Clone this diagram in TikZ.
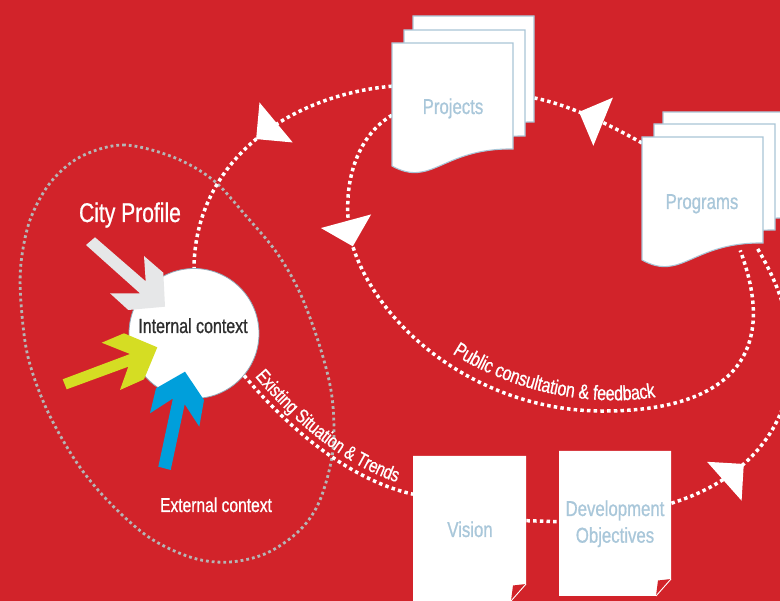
\documentclass[tikz,border=0pt]{standalone}
\usepackage{fontspec}
\setmainfont{Liberation Sans}[FakeStretch=0.78, FakeBold=0.8]
\usetikzlibrary{decorations.markings,decorations.text}
\definecolor{bgred}{HTML}{D2232A}
\definecolor{docedge}{HTML}{A9C5D7}
\definecolor{doctext}{HTML}{A9C7DA}
\definecolor{ellgray}{HTML}{B5B5B5}
\definecolor{arrgray}{HTML}{E6E7E8}
\definecolor{arryellow}{HTML}{D5DD23}
\definecolor{arrblue}{HTML}{009FDB}
\definecolor{inktext}{HTML}{2E2E2E}
\definecolor{circedge}{HTML}{8FA6B6}
\newcommand\myPathFont{\color{white}\fontsize{19.5}{23}\selectfont}
\newcommand\myPathFontB{\color{white}\fontsize{20.5}{24}\selectfont}
\tikzset{
  pics/docsheet/.style={code={
    \path[fill=white, draw=docedge, line width=1.1pt]
      (0,0) -- (121,0) -- (121,106) .. controls (50,105) and (40,145) .. (0,123) -- cycle;
  }},
  pics/foldsheet/.style={code={
    \fill[white] (0,0) -- (#1,0) -- (#1,128) -- (#1-15,145) -- (0,145) -- cycle;
    \fill[bgred] (#1,128) -- (#1-15,145) -- (#1-13,129.5) -- cycle;
    \draw[white, line width=0.9pt] (#1,128) -- (#1-15,145);
  }}
}
\begin{document}
\begin{tikzpicture}[x=1pt,y=-1pt,
  wdots/.style={draw=white, line width=3.5pt, dash pattern=on 3.5pt off 3.2pt},
  gdots/.style={draw=ellgray, line width=2.8pt, dash pattern=on 2.8pt off 3pt},
  headat/.style={postaction={decorate}, decoration={markings, mark=at position #1 with {\fill[white] (0,0) -- (-26,26) -- (-26,-26) -- cycle;}}},
  docface/.style={draw=none, inner sep=0pt, anchor=north west},
  doclabel/.style={text=doctext, font=\fontsize{21.5}{26.7}\selectfont, anchor=base, inner sep=0pt},
  plainlabel/.style={anchor=base, inner sep=0pt}
]
\useasboundingbox (0,0) rectangle (780,601);
\clip (0,0) rectangle (780,601);
\fill[bgred] (0,0) rectangle (780,601);

% city profile boundary
\draw[gdots] plot[smooth cycle, tension=0.55] coordinates {(80,157) (123,145) (173,157) (213,180) (247,217) (277,253) (300,293) (320,347) (332,397) (333,450) (320,500) (300,530) (267,553) (230,562) (193,558) (150,538) (110,503) (77,463) (47,410) (28,357) (21,303) (21,263) (30,220) (50,183)};

% node frames
\node[circle, fill=white, draw=circedge, line width=0.8pt, minimum size=130pt, inner sep=0pt] (circ) at (194,333.5) {};
\node[docface, minimum width=121pt, minimum height=130pt] (projects) at (392,43) {};
\node[docface, minimum width=120pt, minimum height=130pt] (programs) at (642,137) {};
\node[docface, minimum width=113pt, minimum height=145pt] (vision) at (413,456) {};
\node[docface, minimum width=112pt, minimum height=145pt] (devobj) at (559,451) {};

% connectors
\draw[wdots, headat=0.5] ([shift={(0,-22)}]projects.west) .. controls (290,95) and (195,160) .. (circ.north);
\draw[wdots, headat=0.6] ([shift={(0,6)}]programs.north west) .. controls (610,125) and (570,105) .. ([shift={(21,55)}]projects.north east);
\draw[wdots, headat=0.26] ([shift={(0,-20.5)}]devobj.east) .. controls (780,470) and (830,370) .. ([shift={(-5,-19)}]programs.south east);
\draw[wdots] ([shift={(0,-8)}]vision.east) -- ([shift={(0,-2)}]devobj.west);
\draw[wdots] (circ.-40) .. controls (290,430) and (350,480) .. ([shift={(0,-34.5)}]vision.west);
\draw[wdots, headat=0.2] ([shift={(0,7)}]projects.west) .. controls (350,140) and (340,200) .. (353,247) .. controls (380,330) and (480,410) .. (600,411) .. controls (710,412) and (785,370) .. ([shift={(38,-17)}]programs.south);

% connector labels
\path[color=white, decorate, decoration={text along path, text={|\myPathFont|Existing Situation {\&} Trends}, text align={left, left indent=4pt}, raise=7pt}] (247,378) .. controls (290,430) and (350,480) .. (413,494);
\path[color=white, decorate, decoration={text along path, text={|\myPathFontB|Public consultation {\&} feedback}, text align={left, left indent=39pt}, raise=8pt}] (417,337) .. controls (500,410) and (640,430) .. (720,383);

% documents
\pic at (413,16) {docsheet};
\pic at (404,30) {docsheet};
\pic at (392,43) {docsheet};
\pic at (663,112) {docsheet};
\pic at (654,124) {docsheet};
\pic at (642,137) {docsheet};
\pic at (413,456) {foldsheet=113};
\pic at (559,451) {foldsheet=112};

% context arrows
\fill[arrgray] (86,245) -- (95,237.3) -- (145.7,281.3) -- (144,256) -- (163.3,272.7) -- (165,306.7) -- (128.3,310) -- (110,293.3) -- (140,293.3) -- cycle;
\fill[arryellow] (62.7,379.3) -- (130,354) -- (101.7,342.7) -- (124,333.3) -- (157.3,347.3) -- (144,379.3) -- (120,390) -- (128.3,366.7) -- (66.7,389.3) -- cycle;
\fill[arrblue] (158.3,466.7) -- (172.9,398.5) -- (150,413.3) -- (156,388.3) -- (185,371.7) -- (204,400) -- (199.3,426.7) -- (184.7,404.2) -- (170.7,470) -- cycle;

% labels
\node[plainlabel, text=white, font=\fontsize{27}{30}\selectfont] (cityprofile) at (130,222) {City Profile};
\node[plainlabel, text=inktext, font=\fontsize{20.5}{24}\selectfont] (intctx) at (193,333) {Internal context};
\node[plainlabel, text=white, font=\fontsize{20}{24}\selectfont] (extctx) at (216,512) {External context};
\node[doclabel] (projlbl) at (453,114) {Projects};
\node[doclabel] (proglbl) at (702,209) {Programs};
\node[doclabel] (vislbl) at (470,537) {Vision};
\node[doclabel] (devlbl1) at (615,516) {Development};
\node[doclabel] (devlbl2) at (615,542.7) {Objectives};
\end{tikzpicture}
\end{document}
